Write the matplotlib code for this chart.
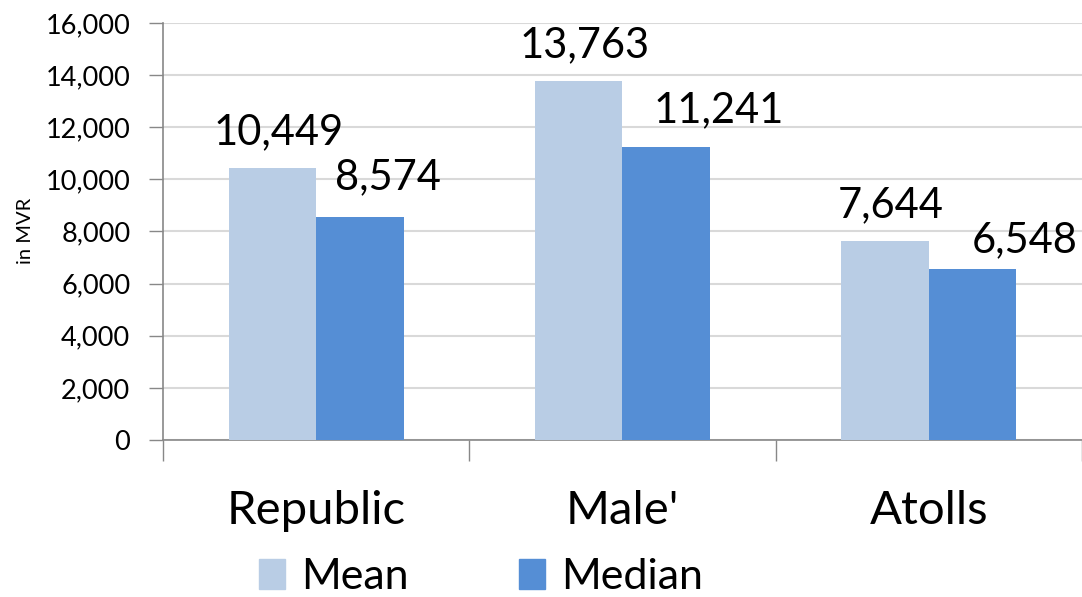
import numpy as np
import matplotlib.pyplot as plt
import matplotlib.patches as mpatches

plt.rcParams['font.family'] = ['Lato', 'DejaVu Sans']

categories = ["Republic", "Male'", "Atolls"]
mean_vals = [10449, 13763, 7644]
median_vals = [8574, 11241, 6548]
series_names = ["Mean", "Median"]

colors = ['#B9CDE5', '#558ED5']

# label nudges (pixels) as placed in the original
mean_dx = [6, 6, 6]
mean_dy = [23, 24, 24]
median_dx = [28, 53, 52]
median_dy = [27, 25, 17]

fig = plt.figure(figsize=(10.82, 5.97), dpi=100)
ax = fig.add_axes([0.1506, 0.263, 0.8494, 0.6985])

x = np.arange(len(categories))
w = 0.2855

b1 = ax.bar(x - w / 2, mean_vals, width=w, color=colors[0], zorder=3)
b2 = ax.bar(x + w / 2, median_vals, width=w, color=colors[1], zorder=3)

px = 72 / fig.dpi
for bars, vals, dxs, dys in [(b1, mean_vals, mean_dx, mean_dy),
                             (b2, median_vals, median_dx, median_dy)]:
    for rect, v, dx, dy in zip(bars, vals, dxs, dys):
        ax.annotate(f"{v:,}", (rect.get_x() + rect.get_width() / 2, v),
                    xytext=(dx * px, dy * px), textcoords='offset points',
                    ha='center', va='baseline', fontsize=30, color='black')

ax.set_xlim(-0.5, 2.5)
ax.set_ylim(0, 16000)
ax.set_yticks(np.arange(0, 16001, 2000))
ax.set_yticklabels([f"{t:,}" for t in range(0, 16001, 2000)], fontsize=19.5)
fig.text(0.024, 0.613, "in MVR", rotation=90, ha='center', va='center', fontsize=14.5)

# category boundaries as ticks, names as minor labels
ax.set_xticks([-0.5, 0.5, 1.5, 2.5])
ax.set_xticklabels([])
ax.set_xticks(x, minor=True)
ax.set_xticklabels(categories, minor=True, fontsize=34)
ax.tick_params(axis='x', which='major', length=15, color='#888888', width=1)
ax.tick_params(axis='x', which='minor', length=0, pad=36)
ax.tick_params(axis='y', length=10, color='#888888', width=1, pad=13.5)

ax.grid(axis='y', color='#D9D9D9', linewidth=1.5, zorder=0)
for s in ['top', 'right']:
    ax.spines[s].set_visible(False)
for s in ['left', 'bottom']:
    ax.spines[s].set_color('#888888')
    ax.spines[s].set_linewidth(1.2)

handles = [mpatches.Patch(color=c, label=n) for c, n in zip(colors, series_names)]
fig.legend(handles=handles, loc='lower center', bbox_to_anchor=(0.4445, -0.049), ncol=2,
           frameon=False, fontsize=31, handlelength=0.61, handleheight=0.67,
           handletextpad=0.38, columnspacing=2.55, borderpad=0.2)

fig.savefig("out.png", dpi=100)
